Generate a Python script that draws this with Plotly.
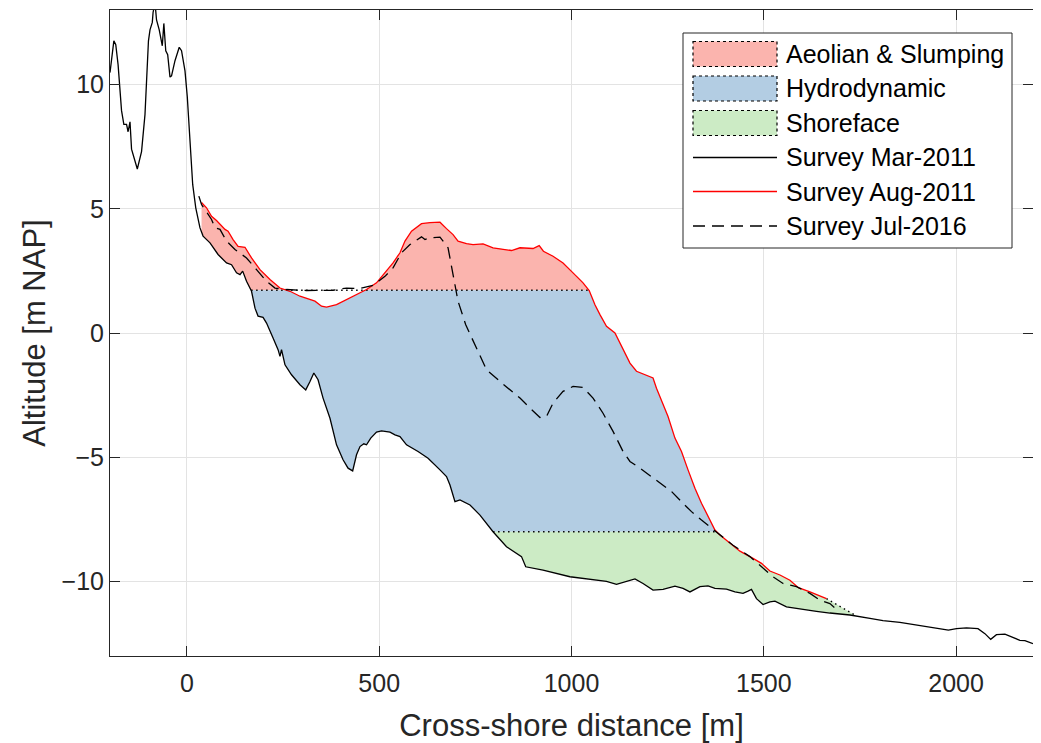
import numpy as np
import plotly.graph_objects as go

# survey profiles (cross-shore distance [m], altitude [m NAP])
mar_x = [-200, -190, -185, -179, -170, -164, -157, -153, -148, -144,
         -129, -118, -109, -100, -96, -90, -88, -83, -79, -72,
         -64, -60, -55, -50, -44, -40, -31, -20, -14, -5,
         1, 8, 15, 23, 34, 42, 60, 81, 103, 116,
         129, 138, 145, 155, 168, 177, 185, 198, 207, 224,
         237, 242, 246, 255, 272, 294, 309, 320, 330, 341,
         354, 372, 389, 406, 419, 431, 441, 450, 460, 467,
         478, 493, 506, 528, 541, 554, 571, 601, 627, 658,
         675, 684, 697, 710, 736, 762, 796, 831, 870, 881,
         926, 996, 1048, 1091, 1117, 1143, 1165, 1186, 1212, 1238,
         1269, 1290, 1308, 1334, 1355, 1373, 1403, 1425, 1446, 1459,
         1468, 1481, 1498, 1516, 1529, 1559, 1602, 1637, 1672, 1724,
         1776, 1810, 1854, 1932, 1980, 2001, 2027, 2057, 2075, 2090,
         2105, 2127, 2149, 2166, 2179, 2200]
mar_y = [10.48, 11.76, 11.6, 10.8, 8.95, 8.4, 8.4, 8.1, 8.5, 7.4,
         6.6, 7.3, 8.8, 11.76, 12.2, 12.5, 12.9, 13.3, 12.6, 12.2,
         11.56, 12.46, 11.36, 11.2, 10.3, 10.35, 10.96, 11.5, 11.36, 10.55,
         9.5, 7.46, 5.98, 5.04, 4.23, 3.9, 3.63, 3.16, 2.82, 2.75,
         2.42, 2.35, 2.49, 2.08, 1.68, 1.0, 0.68, 0.63, 0.4, -0.2,
         -0.67, -0.94, -0.67, -1.28, -1.68, -2.08, -2.29, -1.95, -1.61, -1.88,
         -2.62, -3.43, -4.5, -5.1, -5.44, -5.55, -4.9, -4.57, -4.46, -4.5,
         -4.23, -3.99, -3.94, -3.99, -4.1, -4.17, -4.5, -4.77, -5.04, -5.51,
         -5.78, -6.12, -6.79, -6.72, -6.92, -7.33, -8.0, -8.6, -9.0, -9.41,
         -9.54, -9.81, -9.9, -10.0, -10.12, -10.0, -9.9, -10.08, -10.35, -10.32,
         -10.19, -10.28, -10.42, -10.21, -10.18, -10.28, -10.31, -10.42, -10.48, -10.39,
         -10.32, -10.69, -10.93, -10.82, -10.79, -11.02, -11.13, -11.2, -11.27, -11.35,
         -11.49, -11.58, -11.65, -11.83, -11.96, -11.9, -11.87, -11.9, -12.1, -12.33,
         -12.14, -12.12, -12.27, -12.37, -12.38, -12.5]

aug_x = [38, 51, 64, 77, 99, 107, 120, 133, 151, 168,
         190, 216, 242, 268, 294, 320, 333, 350, 363, 389,
         424, 467, 493, 510, 536, 554, 567, 584, 610, 632,
         658, 675, 692, 705, 727, 744, 770, 796, 831, 844,
         866, 900, 916, 927, 952, 978, 1004, 1030, 1046, 1061,
         1074, 1091, 1113, 1134, 1152, 1169, 1186, 1212, 1221, 1234,
         1251, 1269, 1286, 1303, 1321, 1338, 1355, 1373, 1386, 1412,
         1438, 1472, 1494, 1516, 1542, 1568, 1590, 1620, 1663]
aug_y = [5.25, 5.04, 4.7, 4.53, 4.17, 4.1, 3.76, 3.49, 3.45, 3.02,
         2.55, 2.15, 1.81, 1.68, 1.48, 1.34, 1.28, 1.08, 1.04, 1.14,
         1.41, 1.75, 2.02, 2.35, 2.82, 3.23, 3.7, 4.1, 4.4, 4.44,
         4.46, 4.2, 3.96, 3.7, 3.6, 3.56, 3.59, 3.43, 3.36, 3.32,
         3.43, 3.4, 3.52, 3.29, 3.09, 2.82, 2.42, 2.02, 1.71, 1.14,
         0.74, 0.27, 0.0, -0.67, -1.21, -1.54, -1.65, -1.81, -2.22, -2.75,
         -3.36, -4.23, -4.77, -5.51, -6.25, -6.85, -7.39, -7.93, -8.13, -8.47,
         -8.78, -9.07, -9.27, -9.58, -9.74, -9.95, -10.25, -10.42, -10.69]

jul_x = [31, 38, 64, 73, 86, 103, 125, 155, 181, 207,
         229, 259, 311, 380, 415, 450, 484, 515, 536, 558,
         580, 610, 619, 630, 658, 679, 692, 705, 725, 779,
         814, 844, 866, 892, 918, 935, 952, 978, 1004, 1030,
         1056, 1082, 1108, 1134, 1152, 1178, 1208, 1234, 1260, 1286,
         1312, 1338, 1364, 1386, 1420, 1464, 1498, 1524, 1550, 1585,
         1620, 1646, 1672, 1695]
jul_y = [5.51, 5.17, 4.57, 4.23, 4.17, 3.7, 3.36, 3.02, 2.55, 2.08,
         1.81, 1.75, 1.71, 1.72, 1.81, 1.79, 1.92, 2.28, 2.62, 3.23,
         3.56, 3.87, 3.76, 3.83, 3.86, 3.43, 2.35, 1.28, 0.33, -1.48,
         -1.95, -2.35, -2.62, -3.02, -3.4, -3.36, -2.82, -2.35, -2.15, -2.19,
         -2.62, -3.23, -3.96, -4.77, -5.17, -5.44, -5.78, -6.05, -6.38, -6.79,
         -7.19, -7.53, -7.86, -8.13, -8.54, -9.0, -9.48, -9.81, -10.08, -10.21,
         -10.48, -10.75, -10.89, -11.2]

# zone limits
z_upper = 1.72      # aeolian / hydrodynamic boundary
z_lower = -8.0      # hydrodynamic / shoreface boundary
closure_x, closure_y = 1740, -11.38

zone_names = ["Aeolian & Slumping", "Hydrodynamic", "Shoreface"]
zone_colors = ["#fbb4ae", "#b3cde3", "#ccebc5"]
survey_names = ["Survey Mar-2011", "Survey Aug-2011", "Survey Jul-2016"]

INK = "#262626"
FONT = "Liberation Sans, Arial, Helvetica, sans-serif"
# the page body has an 8px margin, so the figure is made 8px smaller
OFF = 8
W, H = 1041 - OFF, 743 - OFF
ML, MR, MT, MB = 110 - OFF, 8, 10 - OFF, 87
DOT = "1.5px,3.5px"
DASH = "12px,7px"

# region boundaries on a common grid
red_ext_x = aug_x + [closure_x]
red_ext_y = aug_y + [closure_y]
xs = np.union1d(np.arange(aug_x[0], closure_x + 1, 1.0), mar_x)
xs = xs[(xs >= aug_x[0]) & (xs <= closure_x)]
blk = np.interp(xs, mar_x, mar_y)
red = np.interp(xs, red_ext_x, red_ext_y)
on_aug = xs <= aug_x[-1]

pink_lo = np.maximum(blk, z_upper)
pink_hi = np.maximum(red, pink_lo)
blue_lo = np.maximum(blk, z_lower)
blue_hi = np.maximum(np.minimum(red, z_upper), blue_lo)
green_lo = blk
green_hi = np.maximum(np.minimum(red, z_lower), green_lo)

fig = go.Figure()

for (hi, lo, m), col in zip([(pink_hi, pink_lo, on_aug), (blue_hi, blue_lo, on_aug),
                             (green_hi, green_lo, xs >= 0)], zone_colors):
    xx = xs[m]
    fig.add_trace(go.Scatter(x=np.concatenate([xx, xx[::-1]]),
                             y=np.concatenate([hi[m], lo[m][::-1]]),
                             fill="toself", fillcolor=col, mode="none",
                             hoverinfo="skip", showlegend=False))

# dotted zone edges
xa = xs[np.argmax(blk <= z_upper)]
xb = xs[on_aug][np.where(red[on_aug] >= z_upper)[0][-1]]
xc = xs[np.argmax(blk <= z_lower)]
xd = xs[np.argmax(red <= z_lower)]
for x0, y0, x1, y1 in [(xa, z_upper, xb, z_upper), (xc, z_lower, xd, z_lower),
                       (aug_x[-1], aug_y[-1], closure_x, closure_y)]:
    fig.add_trace(go.Scatter(x=[x0, x1], y=[y0, y1], mode="lines",
                             line=dict(color="black", width=1.3, dash=DOT),
                             hoverinfo="skip", showlegend=False))

fig.add_trace(go.Scatter(x=mar_x, y=mar_y, mode="lines", name=survey_names[0],
                         line=dict(color="black", width=1.3), showlegend=False))
fig.add_trace(go.Scatter(x=aug_x, y=aug_y, mode="lines", name=survey_names[1],
                         line=dict(color="#ff0000", width=1.3), showlegend=False))
fig.add_trace(go.Scatter(x=jul_x, y=jul_y, mode="lines", name=survey_names[2],
                         line=dict(color="black", width=1.3, dash=DASH), showlegend=False))


# hand-built legend, positioned in page pixels
def px(p):
    return (p - OFF - ML) / (W - ML - MR)


def py(p):
    return (OFF + H - MB - p) / (H - MT - MB)


shapes = [dict(type="rect", xref="paper", yref="paper", x0=px(683), x1=px(1012),
               y0=py(33), y1=py(248), line=dict(color=INK, width=1), fillcolor="white")]
annotations = []
row_y = [54, 88.5, 123, 157.5, 191.5, 226]
for i, (name, col) in enumerate(zip(zone_names, zone_colors)):
    shapes.append(dict(type="rect", xref="paper", yref="paper",
                       x0=px(693), x1=px(777), y0=py(row_y[i] - 12.5), y1=py(row_y[i] + 12.5),
                       fillcolor=col, line=dict(color="black", width=1.2, dash="dot")))
    annotations.append((name, row_y[i]))
for i, (name, col, dash) in enumerate(zip(survey_names, ["black", "#ff0000", "black"],
                                           ["solid", "solid", DASH])):
    yy = row_y[3 + i]
    shapes.append(dict(type="line", xref="paper", yref="paper",
                       x0=px(693), x1=px(777), y0=py(yy), y1=py(yy),
                       line=dict(color=col, width=1.3, dash=dash)))
    annotations.append((name, yy))

fig.update_layout(
    width=W, height=H,
    margin=dict(l=ML, r=MR, t=MT, b=MB),
    plot_bgcolor="white", paper_bgcolor="white",
    font=dict(family=FONT, color=INK, size=25),
    shapes=shapes,
    annotations=[dict(text=t, x=px(784), y=py(yy), xref="paper", yref="paper",
                      xanchor="left", yanchor="middle", showarrow=False,
                      font=dict(size=25, color="black")) for t, yy in annotations],
)
fig.update_xaxes(range=[-200, 2200], tickvals=[0, 500, 1000, 1500, 2000],
                 ticks="inside", ticklen=10, tickcolor=INK, tickwidth=1,
                 showline=True, linecolor=INK, linewidth=1, mirror="ticks",
                 showgrid=True, gridcolor="#e3e3e3", gridwidth=1, zeroline=False,
                 tickfont=dict(size=25), automargin=False, ticklabelstandoff=5,
                 title=dict(text="Cross-shore distance [m]", font=dict(size=31), standoff=22))
fig.update_yaxes(range=[-13, 13], tickvals=[-10, -5, 0, 5, 10],
                 ticks="inside", ticklen=10, tickcolor=INK, tickwidth=1,
                 showline=True, linecolor=INK, linewidth=1, mirror="ticks",
                 showgrid=True, gridcolor="#e3e3e3", gridwidth=1, zeroline=False,
                 tickfont=dict(size=25), automargin=False,
                 title=dict(text="Altitude [m NAP]", font=dict(size=31), standoff=6))

fig.write_html("out.html")
